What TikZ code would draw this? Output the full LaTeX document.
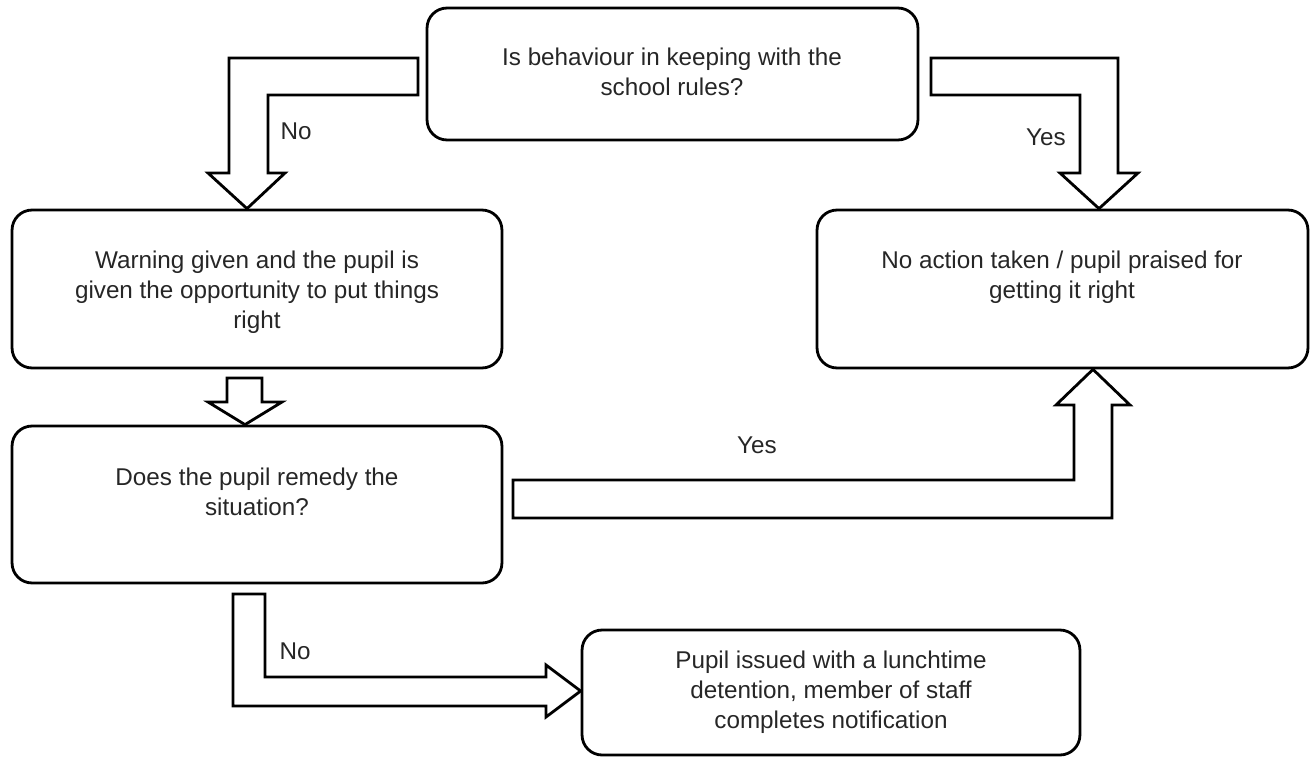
\documentclass[tikz,border=0pt]{standalone}
\usepackage{fontspec}
\setmainfont{Liberation Sans}
\usetikzlibrary{positioning}

\tikzset{
  box/.style={draw, line width=1.6pt, rounded corners=0.4cm, inner sep=0pt},
  txt/.style={align=center, font=\fontsize{13.8}{17}\selectfont, text=black!85},
  lbl/.style={font=\fontsize{13.8}{17}\selectfont, text=black!85},
  blockarrow/.style={draw, line width=1.6pt, fill=white, line join=miter}
}

\begin{document}
\begin{tikzpicture}[x=0.02cm, y=-0.02cm]
  % Frame (pixel grid, y pointing down)
  \useasboundingbox (0,0) rectangle (1312,761);

  % Boxes
  \node[box, minimum width=9.82cm, minimum height=2.64cm] (rules) at (672.5,74) {};
  \node[box, minimum width=9.8cm, minimum height=3.16cm] (warn) at (257,289) {};
  \node[box, minimum width=9.82cm, minimum height=3.16cm] (praise) at (1062.5,289) {};
  \node[box, minimum width=9.8cm, minimum height=3.14cm] (remedy) at (257,504.5) {};
  \node[box, minimum width=9.96cm, minimum height=2.5cm] (detain) at (831,692.5) {};

  % Box texts
  \node[txt] (rulesT) at (672,72) {Is behaviour in keeping with the\\school rules?};
  \node[txt] (warnT) at (257,292) {Warning given and the pupil is\\given the opportunity to put things\\right};
  \node[txt] (praiseT) at (1062,277) {No action taken / pupil praised for\\getting it right};
  \node[txt] (remedyT) at (257,492) {Does the pupil remedy the\\situation?};
  \node[txt] (detainT) at (831,692) {Pupil issued with a lunchtime\\detention, member of staff\\completes notification};

  % Block arrows
  % rules -> warn (No)
  \draw[blockarrow] (418,58) -- (229,58) -- (229,173) -- (208,173)
    -- (247,0 |- warn.north) -- (285,173) -- (268,173) -- (268,95) -- (418,95) -- cycle;
  % rules -> praise (Yes)
  \draw[blockarrow] (931,58) -- (1118,58) -- (1118,173) -- (1138,173)
    -- (1099,0 |- praise.north) -- (1060,173) -- (1080,173) -- (1080,95) -- (931,95) -- cycle;
  % warn -> remedy
  \draw[blockarrow] (227,378) -- (262,378) -- (262,402) -- (282,402)
    -- (245,0 |- remedy.north) -- (208,402) -- (227,402) -- cycle;
  % remedy -> praise (Yes)
  \draw[blockarrow] (513,480) -- (1074,480) -- (1074,405) -- (1056,405)
    -- (1093,0 |- praise.south) -- (1130,405) -- (1112,405) -- (1112,518) -- (513,518) -- cycle;
  % remedy -> detain (No)
  \draw[blockarrow] (233,594) -- (265,594) -- (265,677) -- (546,677) -- (546,665)
    -- (detain.west |- 0,691) -- (546,717) -- (546,706) -- (233,706) -- cycle;

  % Labels
  \node[lbl] (noA) at (296,131) {No};
  \node[lbl] (yesA) at (1046,137) {Yes};
  \node[lbl] (yesB) at (757,445) {Yes};
  \node[lbl] (noB) at (295,651) {No};
\end{tikzpicture}
\end{document}
